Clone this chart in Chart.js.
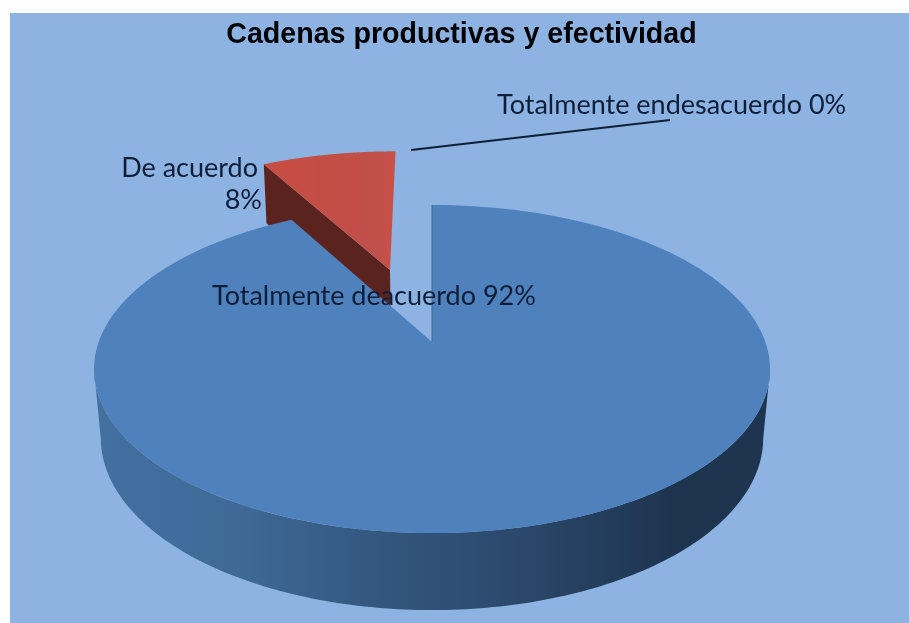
<!DOCTYPE html>
<html><head><meta charset="utf-8">
<style>html,body{margin:0;padding:0;background:#fff}canvas{display:block}</style>
<script src="https://cdn.jsdelivr.net/npm/chart.js@4"></script>
</head><body><canvas id="c" width="909" height="623"></canvas>
<script>
const categories = ["Totalmente de acuerdo", "De acuerdo", "Totalmente en desacuerdo"];
const values = [92, 8, 0];
const sliceColors = ["#4F81BD", "#C0504D", "#9BBB59"];
const explode = [0, 0.503, 0];
const titleText = "Cadenas productivas y efectividad";
const labelTexts = ["Totalmente deacuerdo 92%", "De acuerdo", "8%", "Totalmente endesacuerdo 0%"];

// perspective of the pie plane
const V = {cx: 432, cy: 342, R: 333.4, B: 159.6, D: 69.7, p: 0.1646, q: 0.02};
function proj(u, v, z) {
  const w = 1 - V.p * v + V.q * z;
  return [V.cx + V.R * u / w, V.cy + (V.B * v + V.D * z) / w];
}
const polar = (a, r, ox, oy, z) => {
  const t = a + Math.PI / 2;
  return proj(ox + r * Math.sin(t), oy - r * Math.cos(t), z);
};
function rim(ctx, a0, a1, ox, oy, z, first) {
  const n = 160;
  for (let i = 0; i <= n; i++) {
    const p = polar(a0 + (a1 - a0) * i / n, 1, ox, oy, z);
    (i === 0 && first) ? ctx.moveTo(p[0], p[1]) : ctx.lineTo(p[0], p[1]);
  }
}
function topFace(ctx, arc, ox, oy, fill) {
  const c = proj(ox, oy, 0);
  ctx.beginPath();
  ctx.moveTo(c[0], c[1]);
  rim(ctx, arc.startAngle, arc.endAngle, ox, oy, 0, false);
  ctx.closePath();
  ctx.fillStyle = fill;
  ctx.fill();
}
const pie3d = {
  id: "pie3d",
  beforeDraw(chart) {
    const ctx = chart.ctx;
    ctx.save();
    ctx.fillStyle = "#fff";
    ctx.fillRect(0, 0, 909, 623);
    ctx.fillStyle = "#8DB3E2";
    ctx.fillRect(10, 13, 899, 610);
    ctx.restore();
  },
  beforeDatasetDraw(chart) {
    const ctx = chart.ctx, arcs = chart.getDatasetMeta(0).data;
    ctx.save();
    // exploded slice first: blue covers its foot
    const red = arcs[1], m = (red.startAngle + red.endAngle) / 2 + Math.PI / 2;
    const ox = explode[1] * Math.sin(m) - 0.011, oy = -explode[1] * Math.cos(m);
    const a = polar(red.startAngle, 1, ox, oy, 0), b = proj(ox, oy, 0),
          c = proj(ox, oy, 1), d = polar(red.startAngle, 1, ox, oy, 1);
    ctx.beginPath();
    ctx.moveTo(a[0], a[1]); ctx.lineTo(b[0], b[1]); ctx.lineTo(c[0], c[1]); ctx.lineTo(d[0], d[1]);
    ctx.closePath();
    ctx.fillStyle = "#5A231E";
    ctx.fill();
    const rg = ctx.createLinearGradient(263, 0, 396, 0);
    rg.addColorStop(0, "#C94C42");
    rg.addColorStop(0.85, "#BF504A");
    rg.addColorStop(1, "#CC5048");
    topFace(ctx, red, ox, oy, rg);

    // wall of the big slice
    const blue = arcs[0];
    const w0 = Math.max(blue.startAngle, -Math.PI / 2 + 1.737);
    const w1 = Math.min(blue.endAngle, -Math.PI / 2 + 4.546);
    const g = ctx.createLinearGradient(100, 0, 770, 0);
    g.addColorStop(0, "#43709F");
    g.addColorStop(0.2, "#3F6A98");
    g.addColorStop(0.4, "#345880");
    g.addColorStop(0.6, "#2C4A6E");
    g.addColorStop(0.85, "#1E3550");
    g.addColorStop(1, "#1E3550");
    ctx.beginPath();
    rim(ctx, w0, w1, 0, 0, 0, true);
    rim(ctx, w1, w0, 0, 0, 1, false);
    ctx.closePath();
    ctx.fillStyle = g;
    ctx.fill();
    topFace(ctx, blue, 0, 0, blue.options.backgroundColor);
    // fine edge on the notch
    const t0 = proj(0, 0, 0), t1 = polar(blue.startAngle, 1, 0, 0, 0);
    ctx.strokeStyle = "#3F6A9C";
    ctx.lineWidth = 1;
    ctx.beginPath(); ctx.moveTo(t0[0], t0[1]); ctx.lineTo(t1[0], t1[1]); ctx.stroke();
    ctx.restore();
    return false;
  },
  afterDatasetsDraw(chart) {
    const ctx = chart.ctx;
    ctx.save();
    ctx.strokeStyle = "#101F38";
    ctx.lineWidth = 2;
    ctx.beginPath(); ctx.moveTo(411, 150); ctx.lineTo(670, 120); ctx.stroke();
    ctx.fillStyle = "#0F1E38";
    ctx.font = "27px Lato, 'Open Sans', sans-serif";
    ctx.textBaseline = "middle";
    ctx.textAlign = "left";
    ctx.fillText(labelTexts[0], 212, 296);
    ctx.fillText(labelTexts[3], 497, 105);
    ctx.textAlign = "right";
    ctx.fillText(labelTexts[1], 258, 168);
    ctx.fillText(labelTexts[2], 262, 200);
    ctx.restore();
  }
};
new Chart(document.getElementById("c"), {
  type: "pie",
  data: {labels: categories, datasets: [{data: values, backgroundColor: sliceColors, borderWidth: 0}]},
  options: {
    responsive: false, animation: false,
    layout: {padding: {left: 14}},
    plugins: {
      legend: {display: false}, tooltip: {enabled: false},
      title: {display: true, text: titleText, color: "#000",
        font: {family: "'Liberation Sans', Arial, sans-serif", size: 28.6, weight: "bold"},
        padding: {top: 18, bottom: 10}}
    }
  },
  plugins: [pie3d]
});
</script></body></html>
